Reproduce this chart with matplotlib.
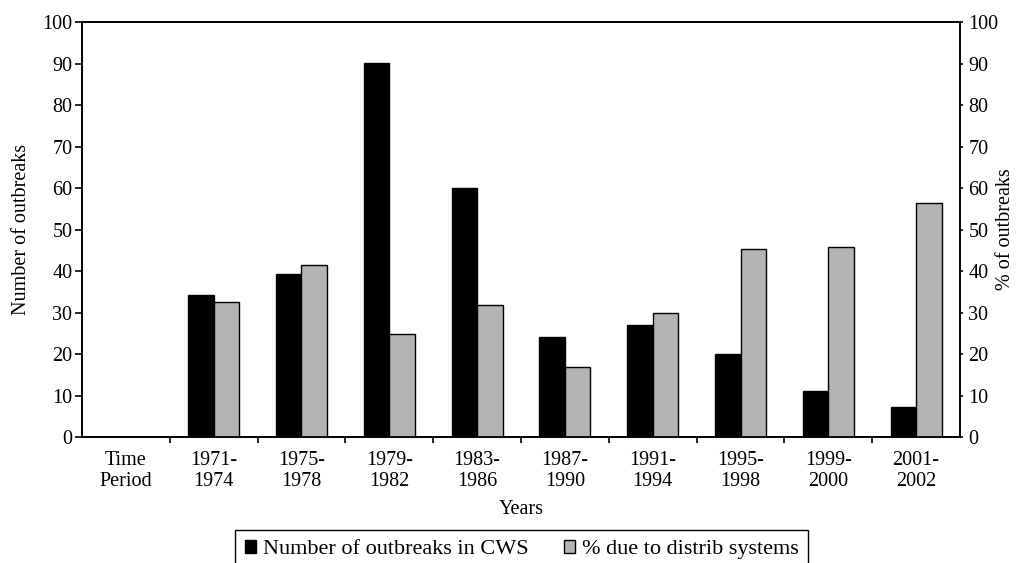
import matplotlib
matplotlib.use("Agg")
import matplotlib.pyplot as plt
import numpy as np

# data
periods = ["Time\nPeriod", "1971-\n1974", "1975-\n1978", "1979-\n1982", "1983-\n1986",
           "1987-\n1990", "1991-\n1994", "1995-\n1998", "1999-\n2000", "2001-\n2002"]
outbreaks_cws = [0, 34.2, 39.2, 90.2, 60.0, 24.2, 27.1, 20.0, 11.2, 7.2]
pct_distrib = [0, 32.6, 41.5, 24.7, 31.8, 16.9, 29.8, 45.4, 45.7, 56.5]

plt.rcParams['font.family'] = ['Liberation Serif', 'DejaVu Serif']
plt.rcParams['font.size'] = 14.5

fig = plt.figure(figsize=(10.16, 5.63), dpi=100)
ax = fig.add_axes([0.0807, 0.2238, 0.8642, 0.7371])
ax2 = ax.twinx()

x = np.arange(len(periods))
w = 0.29

b1 = ax.bar(x - w / 2, outbreaks_cws, w, color='black', edgecolor='black', linewidth=1.0,
            label='Number of outbreaks in CWS')
b2 = ax2.bar(x + w / 2, pct_distrib, w, color='#b3b3b3', edgecolor='black', linewidth=1.0,
             label='% due to distrib systems')

for a in (ax, ax2):
    a.set_xlim(-0.5, len(periods) - 0.5)
    a.set_ylim(0, 100)
    a.set_yticks(np.arange(0, 101, 10))
    for s in a.spines.values():
        s.set_linewidth(1.2)

# tick marks between categories, labels in the middle
ax.set_xticks(x[:-1] + 0.5)
ax.set_xticklabels([])
ax.set_xticks(x, minor=True)
ax.set_xticklabels(periods, minor=True, linespacing=1.12)
ax.tick_params(axis='x', which='major', direction='out', length=4.5, width=1.2)
ax.tick_params(axis='x', which='minor', length=0, pad=10)
ax.tick_params(axis='y', direction='out', length=5, width=1.2, pad=2)
ax2.tick_params(axis='y', direction='out', length=2, width=1.2, pad=4)

ax.set_xlabel("Years", labelpad=7)
ax.set_ylabel("Number of outbreaks", labelpad=8)
ax2.set_ylabel("% of outbreaks")
ax2.yaxis.set_label_coords(1.0405, 0.5)

fig.legend(handles=[b1, b2], loc='upper center', bbox_to_anchor=(0.5135, 0.0586), ncol=2,
           fontsize=16, frameon=True, fancybox=False, edgecolor='black', framealpha=1,
           handlelength=0.5, handleheight=0.5, handletextpad=0.3, columnspacing=1.6,
           borderpad=0.45, borderaxespad=0)

fig.savefig("out.png", dpi=100)
